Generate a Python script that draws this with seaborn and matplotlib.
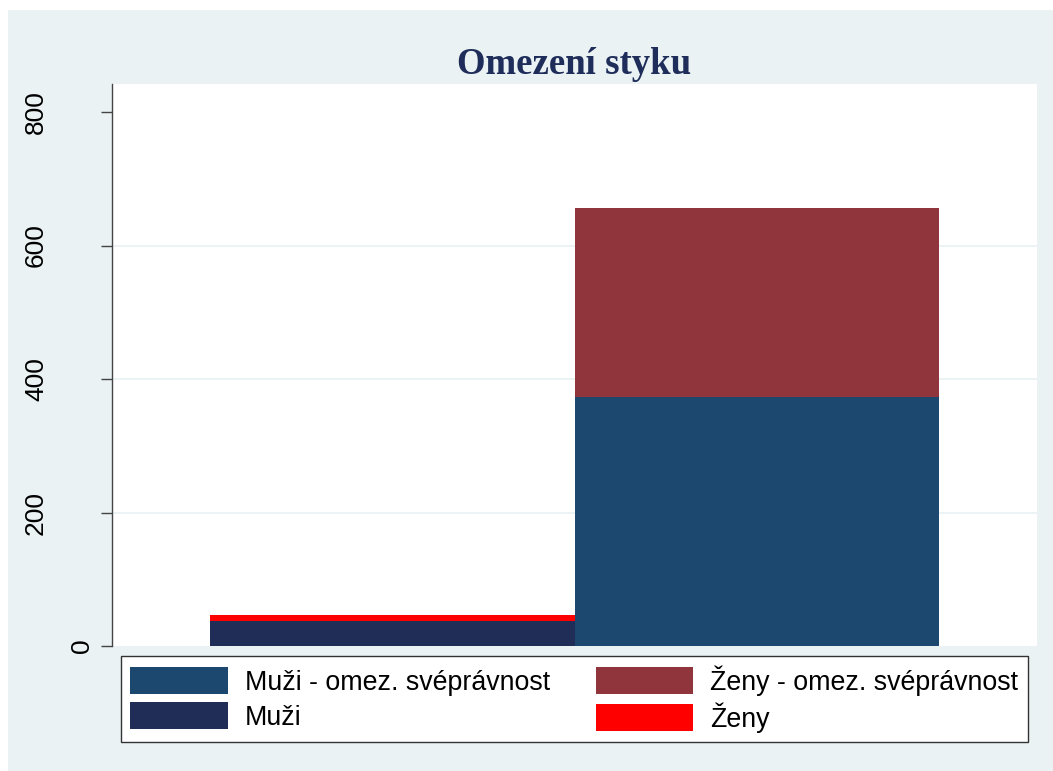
#Stacked bar chart - omezení styku
import numpy as np
import pandas as pd
import matplotlib
matplotlib.use("Agg")
import matplotlib.pyplot as plt
import seaborn as sns
from matplotlib.patches import Patch, Rectangle
from matplotlib.legend_handler import HandlerPatch

#Data
groups = ["bez omezení", "omez. svéprávnost"]
muzi = [37, 373]
zeny = [9, 283]
series_labels = ["Muži - omez. svéprávnost", "Muži", "Ženy - omez. svéprávnost", "Ženy"]
ytick_vals = [0, 200, 400, 600, 800]
ytick_labels = ["0", "200", "400", "600", "800"]
title = "Omezení styku"

#Colours (Stata s2color look)
muzi_colors = ["#202E57", "#1C4870"]
zeny_colors = ["#FF0000", "#90353B"]
legend_colors = ["#1C4870", "#202E57", "#90353B", "#FF0000"]
bg = "#EAF2F3"

sns.set_theme(style="white")
plt.rcParams["font.family"] = ["Liberation Sans", "DejaVu Sans"]

W, H = 1053, 771
fig = plt.figure(figsize=(W / 100, H / 100), dpi=100, facecolor="white")
fig.patches.append(Rectangle((8 / W, 0), 1 - 8 / W, (H - 10) / H, transform=fig.transFigure,
                             facecolor=bg, edgecolor="none", zorder=-10))

ax = fig.add_axes([112 / W, (H - 646) / H, (1037 - 112) / W, (646 - 84) / H])
ax.set_facecolor("white")

df = pd.DataFrame({"skupina": groups, "muzi": muzi, "zeny": zeny})
df["celkem"] = df["muzi"] + df["zeny"]

#Stack: draw totals first, then the lower segment on top
sns.barplot(data=df, x="skupina", y="celkem", hue="skupina", palette=dict(zip(groups, zeny_colors)),
            width=1.0, saturation=1, linewidth=0, errorbar=None, legend=False, ax=ax, zorder=2)
sns.barplot(data=df, x="skupina", y="muzi", hue="skupina", palette=dict(zip(groups, muzi_colors)),
            width=1.0, saturation=1, linewidth=0, errorbar=None, legend=False, ax=ax, zorder=3)

ax.set_xlim(-0.77, 1.77)
ax.set_ylim(0, 842)
ax.set_xticks([])
ax.set_xlabel("")
ax.set_ylabel("")
for s in ["top", "right", "bottom"]:
    ax.spines[s].set_visible(False)
ax.spines["left"].set_color("#444444")
ax.spines["left"].set_linewidth(1.0)

ax.set_yticks(ytick_vals)
ax.set_yticklabels([])
ax.tick_params(axis="y", left=True, length=8, width=1, color="#444444", direction="out")
for v in ytick_vals[1:-1]:
    ax.axhline(v, color=bg, lw=1.3, zorder=1)

#Stata-style rotated y labels
label_x_px = [82, 36, 36, 36, 36]
for v, lab, xp in zip(ytick_vals, ytick_labels, label_x_px):
    ax.text((xp - 112) / 925, v, lab, transform=ax.get_yaxis_transform(), rotation=90,
            ha="center", va="center", fontsize=19, color="black")

fig.text(574 / W, 1 - 74.3 / H, title, ha="center", va="baseline", fontsize=26.5,
         fontweight="bold", family="Liberation Serif", color="#1E2D59")


def swatch(legend, orig_handle, xdescent, ydescent, width, height, fontsize):
    h = 1.0 * fontsize
    return Rectangle((-xdescent, -ydescent + (height - h) / 2), width, h)


handles = [Patch(facecolor=c, edgecolor="none", label=l) for c, l in zip(legend_colors, series_labels)]
leg = fig.legend(handles=handles, ncol=2, loc="center",
                 bbox_to_anchor=(120.7 / W, 1 - 742.5 / H, (1027.7 - 120.7) / W, (742.5 - 655.7) / H),
                 mode="expand", fontsize=19.3, handlelength=3.65, handleheight=1.18, handletextpad=0.63,
                 labelspacing=0.24, borderpad=0.35, borderaxespad=0, frameon=True, fancybox=False,
                 edgecolor="#333333", facecolor="white", framealpha=1, labelcolor="black",
                 handler_map={Patch: HandlerPatch(patch_func=swatch)})
leg.get_frame().set_linewidth(1.0)

plt.savefig("out.png", dpi=100, facecolor=fig.get_facecolor())
